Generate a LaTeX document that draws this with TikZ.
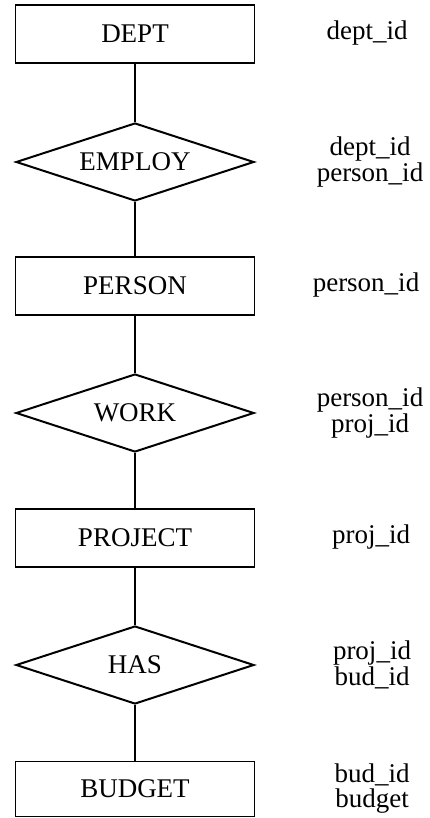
\documentclass[tikz,border=0pt]{standalone}
\usepackage{fontspec}
\setmainfont{Liberation Serif}
\usetikzlibrary{shapes.geometric}
\begin{document}
\begin{tikzpicture}[x=1pt,y=1pt,
  every node/.style={font=\fontsize{27}{23}\selectfont},
  entity/.style={draw, line width=1.5pt, rectangle, minimum width=239pt, minimum height=58pt, inner sep=0pt},
  rel/.style={draw, line width=2pt, diamond, aspect=3, minimum width=238pt, minimum height=78pt, inner sep=0pt},
  attr/.style={align=center, inner sep=0pt},
  link/.style={line width=2pt}]
\useasboundingbox (0,0) rectangle (430,-818);
\node[entity] (dept) at (135,-34) {DEPT};
\node[rel] (employ) at (135,-162) {EMPLOY};
\node[entity] (person) at (135,-286) {PERSON};
\node[rel] (work) at (135,-413) {WORK};
\node[entity] (project) at (135,-538) {PROJECT};
\node[rel] (has) at (135,-665) {HAS};
\node[entity, minimum height=55pt] (budget) at (135,-789) {BUDGET};
\draw[link] (dept) -- (employ);
\draw[link] (employ) -- (person);
\draw[link] (person) -- (work);
\draw[link] (work) -- (project);
\draw[link] (project) -- (has);
\draw[link] (has) -- (budget);
\node[attr] (a1) at (367,-33) {dept\_id};
\node[attr] (a2) at (370,-162) {dept\_id\\person\_id};
\node[attr] (a3) at (366,-285) {person\_id};
\node[attr] (a4) at (370,-413) {person\_id\\proj\_id};
\node[attr] (a5) at (371,-537) {proj\_id};
\node[attr] (a6) at (372,-665) {proj\_id\\bud\_id};
\node[attr] (a7) at (372,-789) {bud\_id\\[2pt]budget};
\end{tikzpicture}
\end{document}
